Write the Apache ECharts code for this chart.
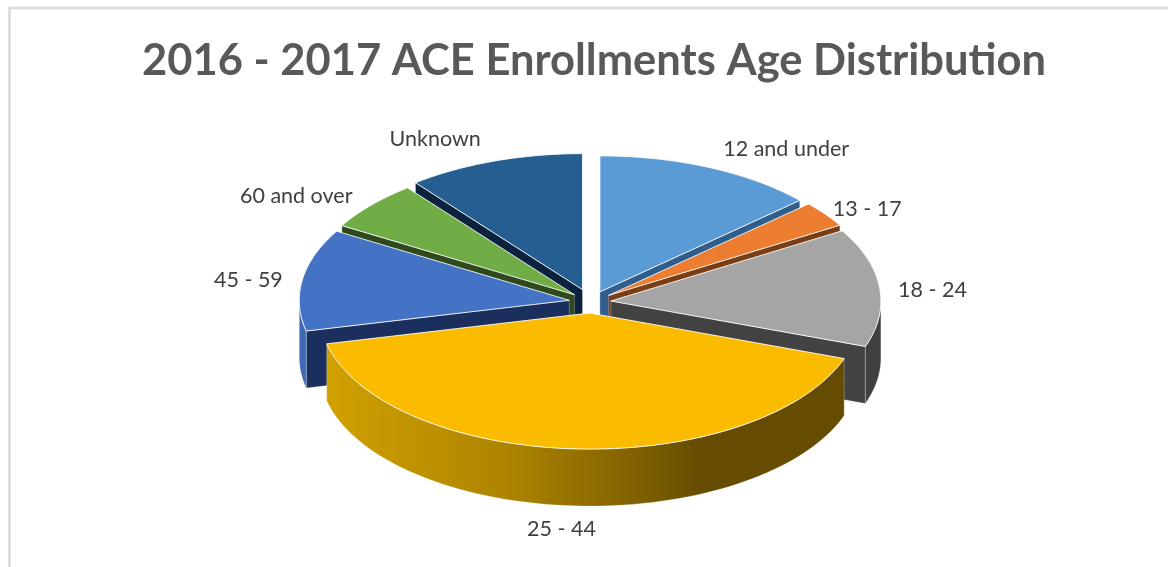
<!DOCTYPE html>
<html><head><meta charset="utf-8">
<style>html,body{margin:0;padding:0;background:#fff}#c{width:1168px;height:567px}</style>
<script src="https://cdn.jsdelivr.net/npm/echarts@6/dist/echarts.min.js"></script>
</head><body><div id="c"></div>
<script>
const titleText = '2016 - 2017 ACE Enrollments Age Distribution';
const categories = ['12 and under','13 - 17','18 - 24','25 - 44','45 - 59','60 and over','Unknown'];
const shares = [13.25, 3.1, 14.05, 40.9, 12.1, 5.9, 10.6];
const topColors = ['#5B9BD5','#ED7D31','#A5A5A5','#FBBC00','#4472C4','#70AD47','#255E91'];
const edgeColors = ['#2F5E8C','#7A3E14','#424242','#7A5C00','#1B2F5E','#2E4A1C','#0C2340'];
const rimColors = ['#3E6C9A','#8C4A1A','#404040',null,'#3F69B4','#4A7A30','#1D4A74'];

const cx = 591, cy = 302, rx = 270, ry = 136, depth = 57;
const explodeBy = [22,22,20,22,22,22,26];
const labelNudge = [[77,-18],[42,-5],[53,3],[-13,80],[-54,0],[-75,-9],[-59,-22]];

const total = shares.reduce((a,b)=>a+b,0);
const toRad = d => d*Math.PI/180;
function arcAngles(i){
  let s = 0; for(let k=0;k<i;k++) s += shares[k];
  return [s/total*360, (s+shares[i])/total*360];
}
function renderSlice(params, api){
  const i = params.dataIndex;
  const [a,b] = arcAngles(i);
  const m = (a+b)/2;
  const ox = cx + explodeBy[i]*Math.sin(toRad(m));
  const oy = cy - explodeBy[i]*Math.cos(toRad(m))*ry/rx;
  const pt = d => [ox + rx*Math.sin(toRad(d)), oy - ry*Math.cos(toRad(d))];
  const down = p => [p[0], p[1]+depth];
  const base = Math.round(100*(1 - Math.cos(toRad(m))))*4 + 10;
  const kids = [];
  const wall = 'rgba(255,255,255,0.45)';
  const radial = (d)=>{
    const t = pt(d);
    kids.push({type:'polygon',z2:base,shape:{points:[[ox,oy],t,down(t),[ox,oy+depth]]},
      style:{fill:edgeColors[i],stroke:wall,lineWidth:0.6}});
  };
  if(Math.sin(toRad(a))<-1e-6) radial(a);
  if(Math.sin(toRad(b))>1e-6) radial(b);
  const from = Math.max(a,90), to = Math.min(b,270);
  if(to>from){
    const up=[],lo=[];
    for(let d=from;d<=to+1e-6;d+=(to-from)/80){const p=pt(d);up.push(p);lo.unshift(down(p));}
    const fill = rimColors[i] || new echarts.graphic.LinearGradient(0,0,1,0,[
      {offset:0,color:'#D1A000'},{offset:0.35,color:'#AD8400'},{offset:0.62,color:'#7C5E00'},{offset:0.72,color:'#664C00'},{offset:1,color:'#664C00'}]);
    kids.push({type:'polygon',z2:base+1,shape:{points:up.concat(lo)},style:{fill,stroke:wall,lineWidth:0.6}});
  }
  const face=[[ox,oy]];
  const steps=Math.max(12,Math.round((b-a)));
  for(let k=0;k<=steps;k++) face.push(pt(a+(b-a)*k/steps));
  kids.push({type:'polygon',z2:base+2,shape:{points:face},
    style:{fill:api.visual('color'),stroke:'rgba(255,255,255,0.85)',lineWidth:1}});
  const anchor=pt(m);
  kids.push({type:'text',z2:2000,style:{text:categories[i],x:anchor[0]+labelNudge[i][0],y:anchor[1]+labelNudge[i][1],
    fill:'#404040',font:'21.5px Lato',align:'center',verticalAlign:'middle'}});
  return {type:'group',children:kids};
}
const chart = echarts.init(document.getElementById('c'),null,{renderer:'canvas'});
chart.setOption({
  backgroundColor:'#fff',animation:false,
  title:{text:titleText,left:137,top:34,
    textStyle:{fontFamily:'Lato',fontWeight:'bold',fontSize:43.5,color:'#595959'}},
  graphic:[{type:'polyline',shape:{points:[[9.5,567],[9.5,8],[1168,8]]},style:{stroke:'#D9D9D9',lineWidth:2.5,fill:null},silent:true}],
  series:[{type:'custom',coordinateSystem:'none',renderItem:renderSlice,clip:false,
    data:categories.map((n,i)=>({name:n,value:shares[i],itemStyle:{color:topColors[i]}}))}]
});
</script></body></html>
